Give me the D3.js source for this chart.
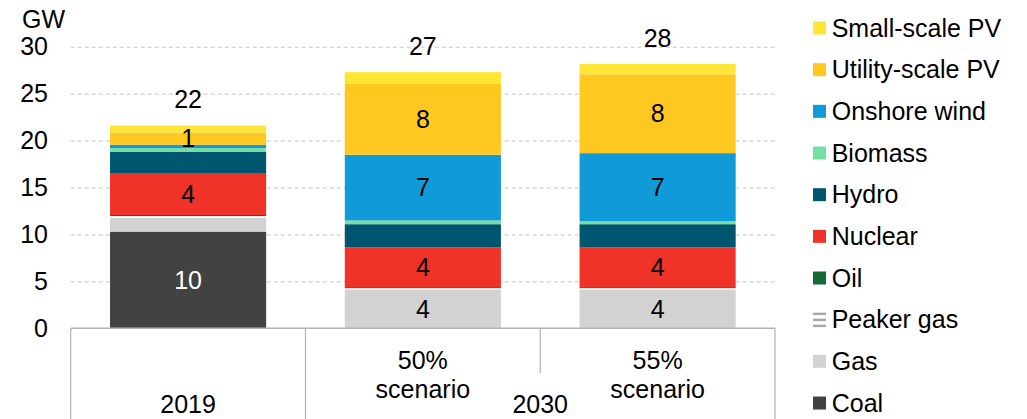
<!DOCTYPE html>
<html>
<head>
<meta charset="utf-8">
<script src="https://cdn.jsdelivr.net/npm/d3@7"></script>
<style>
  html, body { margin: 0; padding: 0; background: #fff; }
  svg { display: block; font-family: "Liberation Sans", Arial, sans-serif; }
</style>
</head>
<body>
<svg id="chart" width="1027" height="419"></svg>
<script>
// Installed capacity by technology, GW
const categories = ["2019", "50% scenario", "55% scenario"];
const categoryLines = [["2019"], ["50%", "scenario"], ["55%", "scenario"]];
const groups = [
  { label: "2019", from: 0, to: 0 },
  { label: "2030", from: 1, to: 2 }
];

// stacking order, bottom to top
const seriesNames = ["Coal", "Gas", "Peaker gas", "Oil", "Nuclear", "Hydro", "Biomass", "Onshore wind", "Utility-scale PV", "Small-scale PV"];
const coal        = [10.3, 0, 0];
const gas         = [1.45, 4.15, 4.15];
const peakerGas   = [0.2, 0.12, 0.12];
const oil         = [0.12, 0.12, 0.12];
const nuclear     = [4.4, 4.25, 4.25];
const hydro       = [2.35, 2.45, 2.45];
const biomass     = [0.38, 0.4, 0.32];
const onshoreWind = [0.35, 7.0, 7.25];
const utilityPV   = [1.3, 7.6, 8.4];
const smallPV     = [0.75, 1.2, 1.1];

// segments that carry a value label, per category
const labelledSeries = [
  ["Coal", "Nuclear", "Utility-scale PV"],
  ["Gas", "Nuclear", "Onshore wind", "Utility-scale PV"],
  ["Gas", "Nuclear", "Onshore wind", "Utility-scale PV"]
];

const yTicks = [0, 5, 10, 15, 20, 25, 30];

const colors = {
  "Coal": "#424242",
  "Gas": "#d2d2d2",
  "Peaker gas": "url(#peakerHatch)",
  "Oil": "#146b35",
  "Nuclear": "#ef3329",
  "Hydro": "#00566f",
  "Biomass": "#74dfa1",
  "Onshore wind": "#109bd8",
  "Utility-scale PV": "#ffc820",
  "Small-scale PV": "#ffe535"
};

const seriesValues = [coal, gas, peakerGas, oil, nuclear, hydro, biomass, onshoreWind, utilityPV, smallPV];
const rows = categories.map((c, i) => {
  const r = { category: c };
  seriesNames.forEach((s, k) => { r[s] = seriesValues[k][i]; });
  return r;
});

const svg = d3.select("#chart");
const plotLeft = 70.7, plotRight = 775, plotTop = 46.7, plotBottom = 328.3;
const fontSize = 25;

const defs = svg.append("defs");
const pat = defs.append("pattern")
  .attr("id", "peakerHatch")
  .attr("patternUnits", "userSpaceOnUse")
  .attr("width", 6).attr("height", 6);
pat.append("rect").attr("width", 6).attr("height", 6).attr("fill", "#fff");
pat.append("rect").attr("y", 3).attr("width", 6).attr("height", 2).attr("fill", "#a6a6a6");

const y = d3.scaleLinear().domain([0, 30]).range([plotBottom, plotTop]);
const cell = d3.scaleBand().domain(categories).range([plotLeft, plotRight]);
const x = d3.scaleBand().domain(categories).range([plotLeft, plotRight])
  .paddingInner(0.335).paddingOuter(0.1675);

// gridlines and value axis
const yAxis = svg.append("g")
  .attr("transform", `translate(${plotLeft},0)`)
  .call(d3.axisLeft(y).tickValues(yTicks).tickFormat(d3.format("d"))
    .tickSizeInner(-(plotRight - plotLeft)).tickSizeOuter(0).tickPadding(22.7));
yAxis.select(".domain").remove();
yAxis.selectAll(".tick line")
  .attr("stroke", "#c4c4c4")
  .attr("stroke-dasharray", "4,3")
  .attr("stroke-width", 1)
  .attr("opacity", d => d === 0 ? 0 : 1);
yAxis.selectAll(".tick text")
  .attr("font-size", fontSize)
  .attr("fill", "#000")
  .attr("font-family", "Liberation Sans, Arial, sans-serif");

svg.append("text")
  .attr("x", 22).attr("y", 28)
  .attr("font-size", fontSize)
  .text("GW");

// stacked bars
const stack = d3.stack().keys(seriesNames)(rows);
const layers = svg.append("g").selectAll("g")
  .data(stack).join("g")
  .attr("fill", d => colors[d.key]);
layers.selectAll("rect")
  .data(d => d.map(p => ({ key: d.key, p })))
  .join("rect")
  .attr("x", d => x(d.p.data.category))
  .attr("width", x.bandwidth())
  .attr("y", d => y(d.p[1]))
  .attr("height", d => Math.max(0, y(d.p[0]) - y(d.p[1])));

// segment value labels
const segLabels = [];
stack.forEach(layer => {
  layer.forEach((p, i) => {
    if (labelledSeries[i].includes(layer.key)) {
      segLabels.push({ key: layer.key, cat: p.data.category, v: p[1] - p[0], mid: (p[0] + p[1]) / 2 });
    }
  });
});
svg.append("g").selectAll("text")
  .data(segLabels).join("text")
  .attr("x", d => x(d.cat) + x.bandwidth() / 2)
  .attr("y", d => y(d.mid))
  .attr("dy", "0.35em")
  .attr("text-anchor", "middle")
  .attr("font-size", fontSize)
  .attr("fill", d => d.key === "Coal" ? "#fff" : "#000")
  .text(d => d3.format(".0f")(d.v));

// totals above bars
const totals = rows.map(r => ({ cat: r.category, v: d3.sum(seriesNames, s => r[s]) }));
svg.append("g").selectAll("text")
  .data(totals).join("text")
  .attr("x", d => x(d.cat) + x.bandwidth() / 2)
  .attr("y", d => y(d.v) - 26)
  .attr("dy", "0.35em")
  .attr("text-anchor", "middle")
  .attr("font-size", fontSize)
  .text(d => d3.format(".0f")(d.v));

// category axis with boxed groups
const axisColor = "#b3b3b3";
const axisG = svg.append("g");
axisG.append("line")
  .attr("x1", plotLeft).attr("x2", plotRight)
  .attr("y1", plotBottom).attr("y2", plotBottom)
  .attr("stroke", axisColor).attr("stroke-width", 1.5);
// outer and group separators run full depth; the inner one stops above the group label
const separators = [];
groups.forEach(g => {
  separators.push({ x: cell(categories[g.from]), full: true });
  for (let i = g.from + 1; i <= g.to; i++) separators.push({ x: cell(categories[i]), full: false });
});
separators.push({ x: plotRight, full: true });
axisG.selectAll("line.sep")
  .data(separators).join("line")
  .attr("class", "sep")
  .attr("x1", d => d.x).attr("x2", d => d.x)
  .attr("y1", plotBottom)
  .attr("y2", d => d.full ? 419 : 373)
  .attr("stroke", axisColor).attr("stroke-width", 1.2);

// per-category labels (scenario names)
categories.forEach((c, i) => {
  if (categoryLines[i].length < 2) return;
  const t = axisG.append("text")
    .attr("text-anchor", "middle")
    .attr("font-size", fontSize);
  categoryLines[i].forEach((line, k) => {
    t.append("tspan")
      .attr("x", cell(c) + cell.bandwidth() / 2)
      .attr("y", 368.5 + k * 29.5)
      .text(line);
  });
});
// group labels
axisG.selectAll("text.group")
  .data(groups).join("text")
  .attr("class", "group")
  .attr("x", g => (cell(categories[g.from]) + cell(categories[g.to]) + cell.bandwidth()) / 2)
  .attr("y", 413)
  .attr("text-anchor", "middle")
  .attr("font-size", fontSize)
  .text(g => g.label);

// legend, top entry is the top of the stack
const legendOrder = seriesNames.slice().reverse();
const legend = svg.append("g").selectAll("g")
  .data(legendOrder).join("g")
  .attr("transform", (d, i) => `translate(813,${28 + i * 41.67})`);
legend.each(function(d) {
  const g = d3.select(this);
  if (d === "Peaker gas") {
    [-7, -1, 5].forEach(dy => {
      g.append("rect").attr("x", 0).attr("y", dy).attr("width", 13).attr("height", 2.4).attr("fill", "#a6a6a6");
    });
  } else {
    g.append("rect").attr("x", 0).attr("y", -6.5).attr("width", 13).attr("height", 13).attr("fill", colors[d]);
  }
});
legend.append("text")
  .attr("x", 18.7)
  .attr("dy", "0.35em")
  .attr("font-size", fontSize)
  .text(d => d);
</script>
</body>
</html>
